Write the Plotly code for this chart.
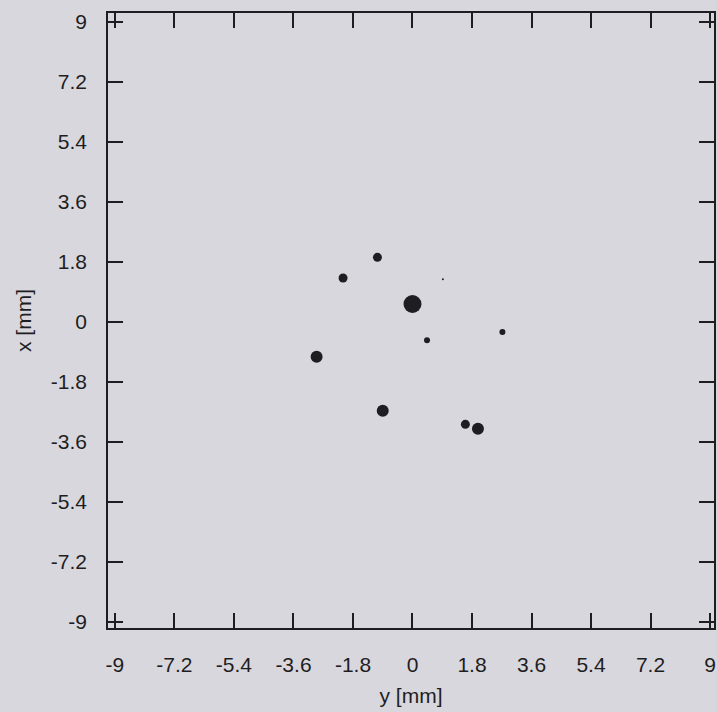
import plotly.graph_objects as go

# Particle positions in the transverse plane and marker diameters (px)
y_mm = [-1.06, -2.10, 0.0, 0.92, 2.72, 0.44, -2.90, -0.90, 1.60, 1.98]
x_mm = [1.93, 1.31, 0.53, 1.27, -0.31, -0.56, -1.05, -2.67, -3.08, -3.21]
sizes = [9, 9, 18, 2, 6, 6, 12, 12, 9, 12]

tick_vals = [-9, -7.2, -5.4, -3.6, -1.8, 0, 1.8, 3.6, 5.4, 7.2, 9]
tick_text = ["-9", "-7.2", "-5.4", "-3.6", "-1.8", "0", "1.8", "3.6", "5.4", "7.2", "9"]

bg = "#d9d7de"
ink = "#1e1e22"
font_family = "Liberation Sans, Arial, Helvetica, sans-serif"

fig = go.Figure(
    go.Scatter(
        x=y_mm,
        y=x_mm,
        mode="markers",
        marker=dict(size=sizes, color=ink, opacity=1, line=dict(width=0)),
        hoverinfo="x+y",
    )
)

axis_common = dict(
    tickvals=tick_vals,
    ticktext=tick_text,
    ticks="inside",
    ticklen=15,
    tickwidth=2,
    tickcolor=ink,
    showline=True,
    linecolor=ink,
    linewidth=1.5,
    mirror="allticks",
    showgrid=False,
    zeroline=False,
    tickfont=dict(family=font_family, size=21, color=ink),
)

fig.update_xaxes(
    range=[-9.21, 9.12],
    title=dict(text="y [mm]", font=dict(family=font_family, size=21, color=ink), standoff=13),
    ticklabelstandoff=17,
    **axis_common,
)
fig.update_yaxes(
    range=[-9.19, 9.26],
    title=dict(text="x [mm]", font=dict(family=font_family, size=21, color=ink), standoff=14),
    ticklabelstandoff=15,
    **axis_common,
)

fig.update_layout(
    width=717,
    height=712,
    margin=dict(l=108, r=1, t=13, b=84),
    paper_bgcolor=bg,
    plot_bgcolor=bg,
    showlegend=False,
)

fig.write_html("out.html")
